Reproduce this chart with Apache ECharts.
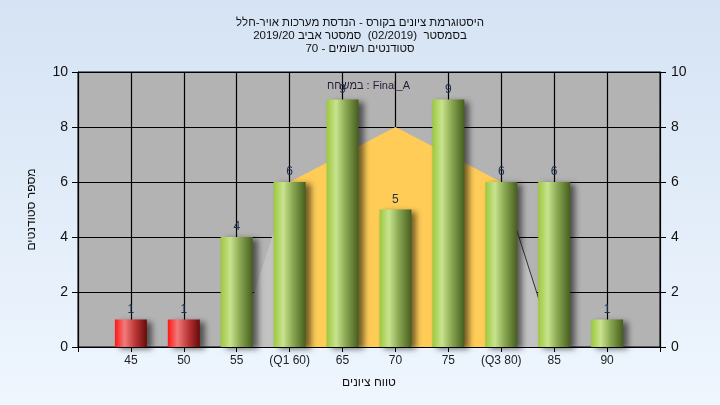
<!DOCTYPE html>
<html>
<head>
<meta charset="utf-8">
<script src="https://cdn.jsdelivr.net/npm/echarts@6/dist/echarts.min.js"></script>
<style>html,body{margin:0;padding:0;}#c{width:720px;height:405px;}</style>
</head>
<body>
<div id="c" dir="rtl"></div>
<script>
var categories = ['', '45', '50', '55', '(Q1 60)', '65', '70', '75', '(Q3 80)', '85', '90', ''];
var counts = [null, 1, 1, 4, 6, 9, 5, 9, 6, 6, 1, null];
var failing = [false, true, true, false, false, false, false, false, false, false, false, false];
var curveMid = [null, null, null, null, 6, 7, 8, 7, 6, null, null, null];
var curveLeft = [null, null, null, 0, 6, null, null, null, null, null, null, null];
var curveRight = [null, null, null, null, null, null, null, null, 6, 0, null, null];
var yTicks = [0, 2, 4, 6, 8, 10];
var titleLines = ['היסטוגרמת ציונים בקורס - הנדסת מערכות אויר-חלל', 'בסמסטר  (02/2019)  סמסטר אביב 2019/20', 'סטודנטים רשומים - 70'];
var seriesName = 'Final_A : במשחח';
var xName = 'טווח ציונים';
var yName = 'מספר סטודנטים';

var FONT = 'Liberation Sans, Arial, DejaVu Sans, sans-serif';
function grad(stops) {
  return new echarts.graphic.LinearGradient(0, 0, 1, 0, stops);
}
var greenG = grad([{offset:0,color:'#9cc83c'},{offset:0.3,color:'#c9e38f'},{offset:0.6,color:'#8aa852'},{offset:1,color:'#465e1e'}]);
var redG = grad([{offset:0,color:'#ff1616'},{offset:0.3,color:'#f27a7a'},{offset:0.65,color:'#b83434'},{offset:1,color:'#680a0a'}]);

var barData = counts.map(function (v, i) {
  if (v === null) return null;
  return { value: v, itemStyle: { color: failing[i] ? redG : greenG } };
});

var chart = echarts.init(document.getElementById('c'), null, { renderer: 'canvas' });
chart.setOption({
  animation: false,
  backgroundColor: new echarts.graphic.LinearGradient(0, 0, 0, 1, [{offset:0,color:'#d5e3f4'},{offset:1,color:'#eff6fe'}]),
  textStyle: { fontFamily: FONT },
  title: {
    text: titleLines.join('\n'),
    left: 'center', top: 11,
    textStyle: { fontSize: 11.5, lineHeight: 13, fontWeight: 'normal', color: '#111', fontFamily: FONT }
  },
  graphic: [{
    type: 'text', left: 327, top: 80,
    style: { text: seriesName, fill: '#2a1a3a', font: '11px ' + FONT }
  }],
  grid: { left: 78, right: 60, top: 72, bottom: 58, show: true, backgroundColor: '#b3b3b3', borderColor: '#000', borderWidth: 1 },
  xAxis: {
    type: 'category', data: categories, boundaryGap: false,
    name: xName, nameLocation: 'middle', nameGap: 30,
    nameTextStyle: { fontSize: 12, color: '#111', fontFamily: FONT },
    axisLine: { lineStyle: { color: '#000', width: 1 } },
    axisTick: { show: true, length: 5, lineStyle: { color: '#000' } },
    axisLabel: { fontSize: 12, color: '#222', margin: 8, interval: 0, fontFamily: FONT },
    splitLine: { show: true, lineStyle: { color: '#000', width: 1.2 } }
  },
  yAxis: [{
    type: 'value', min: 0, max: 10, interval: 2,
    name: yName, nameLocation: 'middle', nameGap: 40,
    nameTextStyle: { fontSize: 12, color: '#111', fontFamily: FONT },
    axisLine: { show: true, lineStyle: { color: '#000' } },
    axisTick: { show: true, length: 6, lineStyle: { color: '#000' } },
    axisLabel: { fontSize: 14, color: '#111', margin: 10, fontFamily: FONT,
      formatter: function (v) { return yTicks.indexOf(v) >= 0 ? String(v) : ''; } },
    splitLine: { show: true, lineStyle: { color: '#000', width: 1.2 } }
  }, {
    type: 'value', min: 0, max: 10, interval: 2, position: 'right',
    axisLine: { show: true, lineStyle: { color: '#000' } },
    axisTick: { show: true, length: 6, lineStyle: { color: '#000' } },
    axisLabel: { fontSize: 14, color: '#111', margin: 11, fontFamily: FONT },
    splitLine: { show: false }
  }],
  series: [{
    type: 'line', data: curveLeft, symbol: 'none', z: 1,
    lineStyle: { width: 0 }, areaStyle: { color: '#c2c2c2', opacity: 1 }
  }, {
    type: 'line', data: curveRight, symbol: 'none', z: 1,
    lineStyle: { width: 1, color: '#333' }, areaStyle: { color: '#c2c2c2', opacity: 1 }
  }, {
    type: 'line', data: curveMid, symbol: 'none', z: 1,
    lineStyle: { width: 0 }, areaStyle: { color: '#ffcc57', opacity: 1 }
  }, {
    type: 'bar', data: barData, barWidth: 32, z: 3,
    itemStyle: { shadowColor: 'rgba(0,0,0,0.55)', shadowBlur: 6, shadowOffsetX: 5, shadowOffsetY: 2 },
    label: { show: true, position: 'top', distance: 4, fontSize: 12, color: '#1c3050', fontFamily: FONT }
  }]
});
</script>
</body>
</html>
